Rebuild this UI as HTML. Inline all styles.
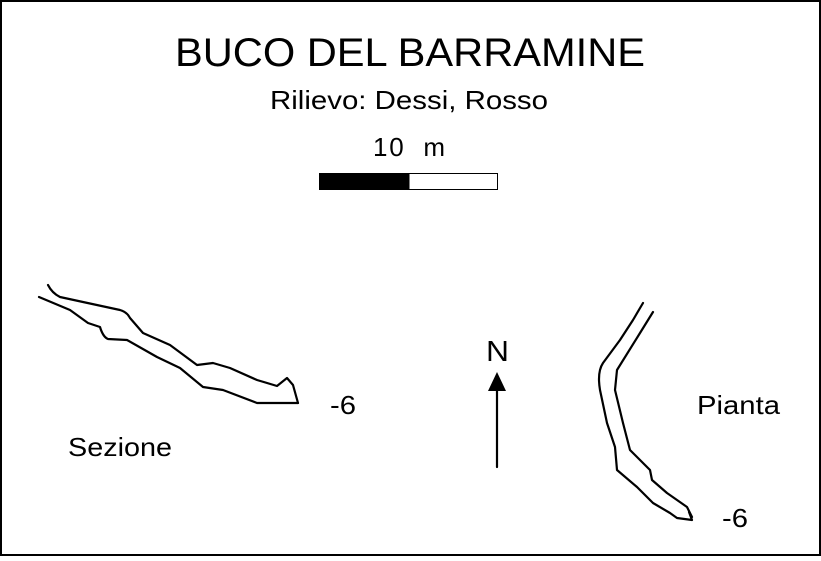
<!DOCTYPE html>
<html><head><style>
body{margin:0;background:#fff}
svg text{font-family:"Liberation Sans",sans-serif;fill:#000}
</style></head><body>
<svg width="821" height="556" viewBox="0 0 821 556" xmlns="http://www.w3.org/2000/svg">
<rect x="1" y="1" width="819" height="554" fill="#fff" stroke="#000" stroke-width="2"/>
<text x="175" y="66" font-size="40" textLength="470" lengthAdjust="spacingAndGlyphs">BUCO DEL BARRAMINE</text>
<text x="270" y="109" font-size="26" textLength="278" lengthAdjust="spacingAndGlyphs">Rilievo: Dessi, Rosso</text>
<text x="373" y="156" font-size="26" textLength="72" lengthAdjust="spacing" xml:space="preserve">10  m</text>
<rect x="319.5" y="173.5" width="178" height="16" fill="#fff" stroke="#000"/>
<rect x="319.5" y="173.5" width="90" height="16" fill="#000"/>
<g fill="none" stroke="#000" stroke-width="2.2" stroke-linejoin="round" stroke-linecap="round">
<path d="M48,285 Q52,293 60,297 L83,302 L120,310 Q127,312 130,318 L143,333 L170,345 L197,365 L213,363 L230,368 L257,380 L277,386 L287,378 L293,385 L298,403"/>
<path d="M39,297 L70,310 L88,323 L100,327 Q103,337 108,339 L127,340 L157,357 L180,368 L203,387 L223,390 L257,403 L298,403"/>
<path d="M643,303 L633,320 L620,340 L603,363 Q597,372 600,390 L607,423 L615,447 L617,470 L637,487 L653,503 L670,513 L677,518 L692,520 L689,512"/>
<path d="M653,312 L640,333 L617,370 L615,390 L623,423 L630,450 L650,470 L652,480 L667,493 L687,507 L692,517"/>
<line x1="497" y1="388" x2="497" y2="467"/>
</g>
<polygon points="497,372 488,391 506,391" fill="#000"/>
<text x="486" y="361" font-size="29" textLength="23" lengthAdjust="spacingAndGlyphs">N</text>
<text x="330" y="414" font-size="26" textLength="26" lengthAdjust="spacingAndGlyphs">-6</text>
<text x="68" y="456" font-size="26" textLength="104" lengthAdjust="spacingAndGlyphs">Sezione</text>
<text x="697" y="414" font-size="26" textLength="83" lengthAdjust="spacingAndGlyphs">Pianta</text>
<text x="722" y="527" font-size="26" textLength="26" lengthAdjust="spacingAndGlyphs">-6</text>
</svg>
</body></html>
